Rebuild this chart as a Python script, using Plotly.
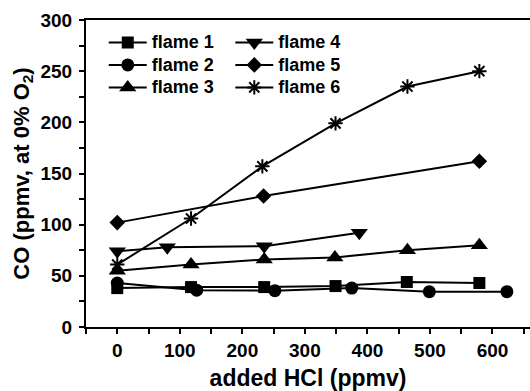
import plotly.graph_objects as go

names = ["flame 1", "flame 2", "flame 3", "flame 4", "flame 5", "flame 6"]
x1 = [0, 118, 235, 349, 463, 579]
y1 = [38, 39, 39, 40, 44, 43]
x2 = [0, 127, 252, 375, 499, 623]
y2 = [43, 36, 35.5, 38, 34.5, 34.5]
x3 = [0, 118, 235, 348, 464, 579]
y3 = [55, 61, 66, 68, 75, 80]
x4 = [0, 80, 235, 387]
y4 = [74, 78, 79, 92]
x5 = [0, 234, 579]
y5 = [102, 128, 162]
x6 = [0, 118, 232, 349, 464, 579]
y6 = [61, 106, 157, 199, 235, 250]

xs = [x1, x2, x3, x4, x5, x6]
ys = [y1, y2, y3, y4, y5, y6]
symbols = ["square", "circle", "triangle-up", "triangle-down", "diamond", "asterisk-open"]
sizes = [12, 13, 15, 15, 12, 12]
legends = ["legend", "legend", "legend", "legend2", "legend2", "legend2"]

FONT = "Liberation Sans, Arial, sans-serif"

fig = go.Figure()
for n, x, y, s, sz, lg in zip(names, xs, ys, symbols, sizes, legends):
    fig.add_trace(go.Scatter(
        x=x, y=y, mode="lines+markers", name='<span style="font-size:18px">' + n + "</span>",
        line=dict(color="black", width=2),
        marker=dict(symbol=s, size=sz, color="black", line=dict(color="black", width=2 if "asterisk" in s else 0)),
        legend=lg,
    ))

axis_common = dict(
    showline=True, linecolor="black", linewidth=2,
    ticks="outside", ticklen=5, tickwidth=2, tickcolor="black",
    showgrid=False, zeroline=False,
    tickfont=dict(family=FONT, size=19, color="black", weight="bold"),
)

fig.update_layout(
    width=530, height=391,
    margin=dict(l=86, r=0, t=20, b=64),
    plot_bgcolor="white", paper_bgcolor="white",
    font=dict(family=FONT, color="black"),
    xaxis=dict(range=[-50, 660], tickvals=[0, 100, 200, 300, 400, 500, 600], mirror=True,
               minor=dict(dtick=50, tick0=0, ticks="outside", ticklen=5, tickwidth=2, tickcolor="black"),
               title=dict(text="added HCl (ppmv)", font=dict(family=FONT, size=23, color="black", weight="bold"), standoff=11),
               **axis_common),
    yaxis=dict(range=[0, 300], tickvals=[0, 50, 100, 150, 200, 250, 300],
               minor=dict(dtick=25, tick0=0, ticks="outside", ticklen=5, tickwidth=2, tickcolor="black"),
               title=dict(text="CO (ppmv, at 0% O<sub>2</sub>)", font=dict(family=FONT, size=22, color="black", weight="bold"), standoff=5),
               ticklabelstandoff=3,
               **axis_common),
    legend=dict(x=0.04, y=0.98, xanchor="left", yanchor="top", bgcolor="rgba(0,0,0,0)",
                font=dict(family=FONT, size=15, color="black", weight="bold"), itemwidth=38, tracegroupgap=0),
    legend2=dict(x=0.325, y=0.98, xanchor="left", yanchor="top", bgcolor="rgba(0,0,0,0)",
                 font=dict(family=FONT, size=15, color="black", weight="bold"), itemwidth=38, tracegroupgap=0),
    showlegend=True,
)

fig.write_html("out.html")
